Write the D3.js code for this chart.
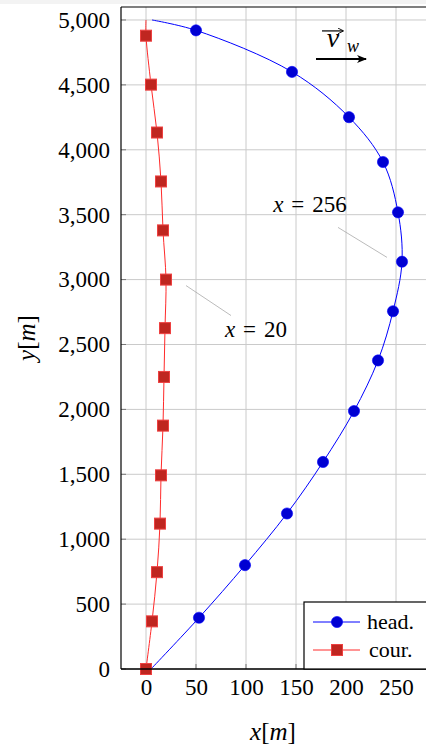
<!DOCTYPE html>
<html><head><meta charset="utf-8">
<script src="https://cdn.jsdelivr.net/npm/d3@7"></script>
<style>body{margin:0;background:#fff;overflow:hidden}</style></head>
<body><svg id="c" width="426" height="746"></svg>
<script>
// ---- data ----
const headX = [5, 53, 99, 141, 177, 208, 232, 247, 256, 252, 237, 203, 146, 50, 6];
const headY = [0, 395, 800, 1198, 1595, 1987, 2377, 2756, 3138, 3518, 3906, 4251, 4600, 4920, 5000];
const headMark = [0, 1, 1, 1, 1, 1, 1, 1, 1, 1, 1, 1, 1, 1, 0];
const courX = [0, 6, 11, 14, 15, 17, 18, 19, 20, 17, 15, 11, 5, 0, 0];
const courY = [0, 367, 746, 1120, 1492, 1875, 2250, 2626, 3000, 3379, 3756, 4133, 4502, 4879, 5000];
const courMark = [1, 1, 1, 1, 1, 1, 1, 1, 1, 1, 1, 1, 1, 1, 0];
const xTicks = [0, 50, 100, 150, 200, 250];
const yTicks = [0, 500, 1000, 1500, 2000, 2500, 3000, 3500, 4000, 4500, 5000];
const annoText = ["256", "20"];
const annoTextPos = [[164, 3520], [110, 2560]];
const annoLineFrom = [[192, 3402], [40, 2954]];
const annoLineTo = [[241, 3171], [85, 2723]];
const windFrom = [170, 4700], windTo = [220, 4700];
const legendLabels = ["head.", "cour."];

// ---- setup ----
const svg = d3.select("#c");
const W = 426, H = 746;
const x = d3.scaleLinear().domain([-25, 280]).range([121, 426]);
const y = d3.scaleLinear().domain([0, 5100]).range([669, 7]);
const FONT = "'Liberation Serif', 'Times New Roman', serif";

svg.append("rect").attr("x", 0).attr("y", 0).attr("width", W).attr("height", 4).attr("fill", "#f3f3f3");

// grid
const g = svg.append("g");
g.selectAll(".gx").data(xTicks).join("line")
  .attr("x1", d => x(d)).attr("x2", d => x(d)).attr("y1", y.range()[0]).attr("y2", y.range()[1])
  .attr("stroke", "#cacaca").attr("stroke-width", 1);
g.selectAll(".gy").data(yTicks).join("line")
  .attr("x1", x.range()[0]).attr("x2", x.range()[1]).attr("y1", d => y(d)).attr("y2", d => y(d))
  .attr("stroke", "#cacaca").attr("stroke-width", 1);
// small inner ticks
g.selectAll(".ty").data(yTicks).join("line")
  .attr("x1", x.range()[0]).attr("x2", x.range()[0] + 5).attr("y1", d => y(d)).attr("y2", d => y(d))
  .attr("stroke", "#777").attr("stroke-width", 1);
g.selectAll(".tx").data(xTicks).join("line")
  .attr("x1", d => x(d)).attr("x2", d => x(d)).attr("y1", y.range()[0]).attr("y2", y.range()[0] - 5)
  .attr("stroke", "#777").attr("stroke-width", 1);

// series
const headPts = headX.map((v, i) => ({x: v, y: headY[i], m: headMark[i]}));
const courPts = courX.map((v, i) => ({x: v, y: courY[i], m: courMark[i]}));
const line = d3.line().x(d => x(d.x)).y(d => y(d.y)).curve(d3.curveCatmullRom.alpha(0.5));

svg.append("path").datum(headPts).attr("d", line).attr("fill", "none").attr("stroke", "#0000ff").attr("stroke-width", 1);
svg.append("path").datum(courPts).attr("d", line).attr("fill", "none").attr("stroke", "#ff2a2a").attr("stroke-width", 1);

svg.selectAll(".hm").data(headPts.filter(d => d.m)).join("circle")
  .attr("cx", d => x(d.x)).attr("cy", d => y(d.y)).attr("r", 5.6)
  .attr("fill", "#0000d2").attr("stroke", "#0000ff").attr("stroke-width", 0.6);
const S = 11;
svg.selectAll(".cm").data(courPts.filter(d => d.m)).join("rect")
  .attr("x", d => x(d.x) - S / 2).attr("y", d => y(d.y) - S / 2).attr("width", S).attr("height", S)
  .attr("fill", "#bf2620").attr("stroke", "#ee4040").attr("stroke-width", 1);

// annotations
annoText.forEach((t, i) => {
  svg.append("line")
    .attr("x1", x(annoLineFrom[i][0])).attr("y1", y(annoLineFrom[i][1]))
    .attr("x2", x(annoLineTo[i][0])).attr("y2", y(annoLineTo[i][1]))
    .attr("stroke", "#aaa").attr("stroke-width", 0.8);
  const tx = svg.append("text").attr("x", x(annoTextPos[i][0])).attr("y", y(annoTextPos[i][1]))
    .attr("text-anchor", "middle").attr("font-family", FONT).attr("font-size", 23).attr("fill", "#000");
  tx.append("tspan").attr("font-style", "italic").text("x");
  tx.append("tspan").attr("dx", 8).text("=");
  tx.append("tspan").attr("dx", 8).text(t);
});

// wind vector
const defs = svg.append("defs");
defs.append("marker").attr("id", "ah").attr("viewBox", "0 0 10 10").attr("refX", 9).attr("refY", 5)
  .attr("markerWidth", 5).attr("markerHeight", 5).attr("orient", "auto").attr("markerUnits", "strokeWidth")
  .append("path").attr("d", "M0,1 Q4,5 0,9 L10,5 Z").attr("fill", "#000");
defs.append("marker").attr("id", "ah2").attr("viewBox", "0 0 10 10").attr("refX", 9).attr("refY", 5)
  .attr("markerWidth", 5).attr("markerHeight", 5).attr("orient", "auto")
  .append("path").attr("d", "M0,0 L10,5 L0,10").attr("fill", "none").attr("stroke", "#000").attr("stroke-width", 1.5);
svg.append("line").attr("x1", x(windFrom[0])).attr("y1", y(windFrom[1]))
  .attr("x2", x(windTo[0])).attr("y2", y(windTo[1]))
  .attr("stroke", "#000").attr("stroke-width", 2).attr("marker-end", "url(#ah)");
const vx = x(windFrom[0]) + 17, vy = y(windFrom[1]) - 12;
svg.append("text").attr("x", vx).attr("y", vy).attr("text-anchor", "middle")
  .attr("font-family", FONT).attr("font-style", "italic").attr("font-size", 28).text("v");
svg.append("text").attr("x", vx + 20).attr("y", vy + 5).attr("text-anchor", "middle")
  .attr("font-family", FONT).attr("font-style", "italic").attr("font-size", 18).text("w");
svg.append("line").attr("x1", vx - 11).attr("x2", vx + 10).attr("y1", vy - 16).attr("y2", vy - 16)
  .attr("stroke", "#000").attr("stroke-width", 1.2).attr("marker-end", "url(#ah2)");

// axis frame
svg.append("line").attr("x1", x.range()[0]).attr("x2", x.range()[0]).attr("y1", y.range()[0]).attr("y2", y.range()[1])
  .attr("stroke", "#000").attr("stroke-width", 1.2);
svg.append("line").attr("x1", x.range()[0]).attr("x2", W).attr("y1", y.range()[1]).attr("y2", y.range()[1])
  .attr("stroke", "#000").attr("stroke-width", 1.2);
svg.append("line").attr("x1", x.range()[0]).attr("x2", W).attr("y1", y.range()[0]).attr("y2", y.range()[0])
  .attr("stroke", "#000").attr("stroke-width", 1.6);

// tick labels via d3 axes
const yAxis = d3.axisLeft(y).tickValues(yTicks).tickSize(0).tickPadding(11).tickFormat(d3.format(","));
const xAxis = d3.axisBottom(x).tickValues(xTicks).tickSize(0).tickPadding(9).tickFormat(d3.format("d"));
const ya = svg.append("g").attr("transform", `translate(${x.range()[0]},0)`).call(yAxis);
const xa = svg.append("g").attr("transform", `translate(0,${y.range()[0]})`).call(xAxis);
[ya, xa].forEach(a => {
  a.select(".domain").remove();
  a.selectAll("text").attr("font-family", FONT).attr("font-size", 23).attr("fill", "#000");
});
xa.selectAll("text").attr("dy", "0.75em");

// axis titles
const xt = svg.append("text").attr("x", 273).attr("y", 740).attr("text-anchor", "middle")
  .attr("font-family", FONT).attr("font-size", 25);
xt.append("tspan").attr("font-style", "italic").text("x");
xt.append("tspan").text("[");
xt.append("tspan").attr("font-style", "italic").text("m");
xt.append("tspan").text("]");
const yt = svg.append("text").attr("transform", "translate(35,338) rotate(-90)").attr("text-anchor", "middle")
  .attr("font-family", FONT).attr("font-size", 25);
yt.append("tspan").attr("font-style", "italic").text("y");
yt.append("tspan").text("[");
yt.append("tspan").attr("font-style", "italic").text("m");
yt.append("tspan").text("]");

// legend
const lg = svg.append("g").attr("transform", "translate(304,602)");
lg.append("rect").attr("x", 0).attr("y", 0).attr("width", 140).attr("height", 67)
  .attr("fill", "#fff").attr("stroke", "#000").attr("stroke-width", 1.2);
legendLabels.forEach((lab, i) => {
  const cy = 20 + i * 28;
  lg.append("line").attr("x1", 9).attr("x2", 56).attr("y1", cy).attr("y2", cy)
    .attr("stroke", i === 0 ? "#0000ff" : "#ff2a2a").attr("stroke-width", 1);
  if (i === 0) {
    lg.append("circle").attr("cx", 33).attr("cy", cy).attr("r", 5.6).attr("fill", "#0000d2").attr("stroke", "#0000ff").attr("stroke-width", 0.6);
  } else {
    lg.append("rect").attr("x", 33 - S / 2).attr("y", cy - S / 2).attr("width", S).attr("height", S)
      .attr("fill", "#bf2620").attr("stroke", "#ee4040").attr("stroke-width", 1);
  }
  lg.append("text").attr("x", i === 0 ? 63 : 65).attr("y", cy).attr("dy", "0.33em")
    .attr("font-family", FONT).attr("font-size", 22).attr("fill", "#000").text(lab);
});
</script></body></html>
